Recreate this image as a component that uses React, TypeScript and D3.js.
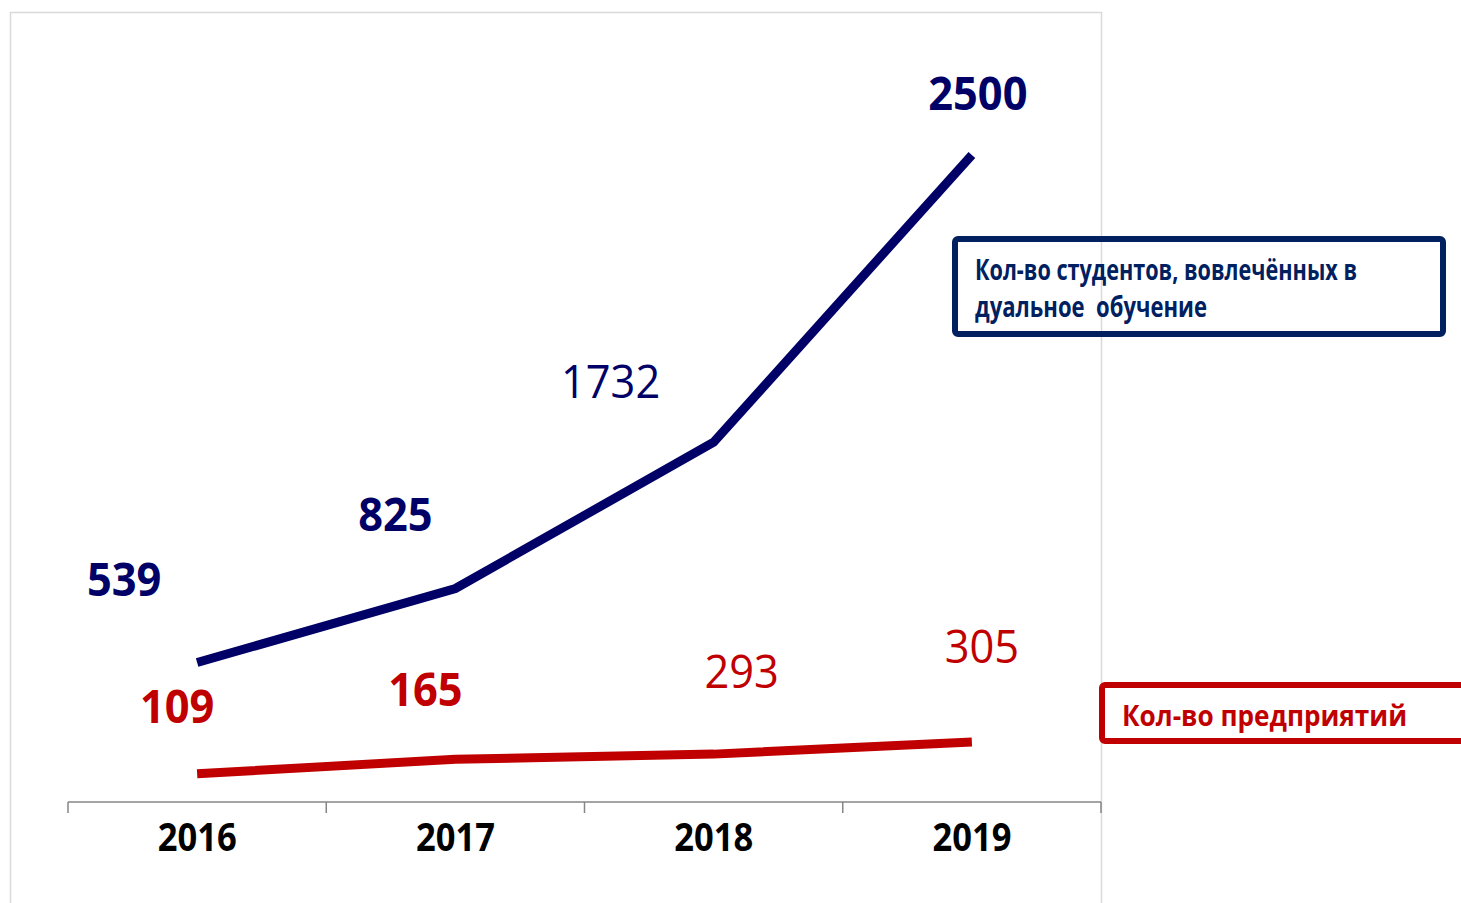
import React from "react";
import * as d3 from "d3";

const years = ["2016", "2017", "2018", "2019"];
// plotted positions
const students = [539, 825, 1390, 2500];
const studentLabels = ["539", "825", "1732", "2500"];
const studentBold = [true, true, false, true];
const enterprises = [109, 165, 185, 232];
const enterpriseLabels = ["109", "165", "293", "305"];
const enterpriseBold = [true, true, false, false];

const legendStudents = ["Кол-во студентов, вовлечённых в", "дуальное  обучение"];
const legendEnterprises = "Кол-во предприятий";

// label layout offsets (px) relative to points
const studentOffsets: [number, number][] = [[-73, -67], [-60, -57], [-103, -44], [6, -45]];
const enterpriseOffsets: [number, number][] = [[-20, -51], [-30, -53], [28, -66], [10, -79]];

const NAVY = "#000066";
const RED = "#c00000";
const FONT = "'Open Sans', 'Noto Sans', sans-serif";

export default function App() {
  const W = 1461, H = 903;
  const x = d3.scaleBand<string>().domain(years).range([68, 1101]).paddingInner(0).paddingOuter(0);
  const y = d3.scaleLinear().domain([0, 3000]).range([802, 25.6]);
  const cx = (i: number) => (x(years[i]) as number) + x.bandwidth() / 2;
  const line = d3.line<number>().x((_, i) => cx(i)).y((d) => y(d));
  const ticks = [...years.map((yr) => x(yr) as number), 1101];

  return (
    <svg width={W} height={H} style={{ position: "absolute", left: 0, top: 0 }}>
      <rect x={0} y={0} width={W} height={H} fill="#fff" />
      <rect x={10.5} y={12.5} width={1091} height={H + 20} fill="#fff" stroke="#d9d9d9" strokeWidth={1.5} />
      {/* axis */}
      <line x1={68} x2={1101} y1={y(0)} y2={y(0)} stroke="#868686" strokeWidth={1.5} />
      {ticks.map((t, i) => (
        <line key={i} x1={t} x2={t} y1={y(0)} y2={y(0) + 11} stroke="#868686" strokeWidth={1.5} />
      ))}
      {years.map((yr, i) => (
        <text key={yr} x={cx(i)} y={851} textAnchor="middle" fontFamily={FONT} fontWeight="bold"
          fontSize={40} fill="#000" textLength={79} lengthAdjust="spacingAndGlyphs">{yr}</text>
      ))}
      {/* lines */}
      <path d={line(students) || ""} fill="none" stroke={NAVY} strokeWidth={9} strokeLinejoin="miter" />
      <path d={line(enterprises) || ""} fill="none" stroke={RED} strokeWidth={9} strokeLinejoin="round" />
      {/* labels */}
      {students.map((v, i) => (
        <text key={"s" + i} x={cx(i) + studentOffsets[i][0]} y={y(v) + studentOffsets[i][1]} textAnchor="middle"
          fontFamily={FONT} fontWeight={studentBold[i] ? "bold" : "normal"} fontSize={46} fill={NAVY}
          textLength={studentLabels[i].length * 24.8} lengthAdjust="spacingAndGlyphs">{studentLabels[i]}</text>
      ))}
      {enterprises.map((v, i) => (
        <text key={"e" + i} x={cx(i) + enterpriseOffsets[i][0]} y={y(v) + enterpriseOffsets[i][1]} textAnchor="middle"
          fontFamily={FONT} fontWeight={enterpriseBold[i] ? "bold" : "normal"} fontSize={46} fill={RED}
          textLength={enterpriseLabels[i].length * 24.8} lengthAdjust="spacingAndGlyphs">{enterpriseLabels[i]}</text>
      ))}
      {/* legend: students */}
      <rect x={955} y={239} width={488} height={95} rx={3} fill="none" stroke="#002060" strokeWidth={6} />
      <text x={975} y={280} fontFamily={FONT} fontWeight="bold" fontSize={29} fill="#002060"
        textLength={382} lengthAdjust="spacingAndGlyphs">{legendStudents[0]}</text>
      <text x={975} y={317} fontFamily={FONT} fontWeight="bold" fontSize={29} fill="#002060"
        textLength={232} lengthAdjust="spacingAndGlyphs" style={{ whiteSpace: "pre" }}>{legendStudents[1]}</text>
      {/* legend: enterprises */}
      <rect x={1102} y={685} width={400} height={56} rx={3} fill="#fff" stroke={RED} strokeWidth={6} />
      <text x={1122} y={726} fontFamily={FONT} fontWeight="bold" fontSize={29} fill={RED}
        textLength={285} lengthAdjust="spacingAndGlyphs">{legendEnterprises}</text>
    </svg>
  );
}
